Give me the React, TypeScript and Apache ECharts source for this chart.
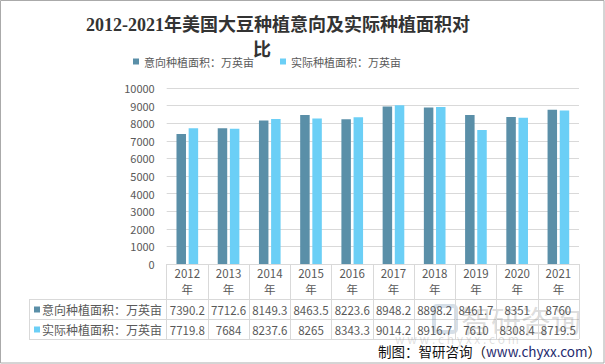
import React, { useEffect, useRef } from "react";
import * as echarts from "echarts";

const years = ["2012", "2013", "2014", "2015", "2016", "2017", "2018", "2019", "2020", "2021"];
const intentArea = [7390.2, 7712.6, 8149.3, 8463.5, 8223.6, 8948.2, 8898.2, 8461.7, 8351, 8760];
const actualArea = [7719.8, 7684, 8237.6, 8265, 8343.3, 9014.2, 8916.7, 7610, 8308.4, 8719.5];
const seriesNames = ["意向种植面积：万英亩", "实际种植面积：万英亩"];
const titleLines = ["2012-2021年美国大豆种植意向及实际种植面积对", "比"];
const sourceLabel = "制图：智研咨询（";
const sourceUrl = "www.chyxx.com";
const colors = ["#5A8FA8", "#6BCFF6"];

const FONT = '"Noto Sans CJK SC", "Noto Sans", sans-serif';
const GRID_LEFT = 166.7;
const GRID_RIGHT_X = 579;
const TABLE_LEFT = 29;

export default function App() {
  const ref = useRef<HTMLDivElement>(null);
  useEffect(() => {
    if (!ref.current) return;
    const chart = echarts.init(ref.current, undefined, { renderer: "svg" });
    const gray = "#595959";
    const lineColor = "#d9d9d9";
    const valueAxis = (vals: number[], margin: number) => ({
      type: "category",
      data: vals.map((v) => String(v)),
      position: "bottom",
      offset: 0,
      axisLine: { show: false },
      axisTick: { show: false },
      splitLine: { show: false },
      axisLabel: { interval: 0, margin, fontSize: 11.5, lineHeight: 16, color: gray, fontFamily: FONT },
    });
    const rowY = [309.5, 329.5];
    const titleFont = '"Liberation Serif", "Noto Sans CJK SC", serif';
    const graphics: any[] = [
      { type: "rect", shape: { x: 0.5, y: 0.5, width: 603.5, height: 362.5 }, style: { fill: "none", stroke: "#aaaaaa", lineWidth: 1 }, silent: true },
      { type: "text", x: 278, y: 25, style: { text: titleLines[0], fontSize: 18, fontWeight: "bold", fontFamily: titleFont, fill: "#333333", textAlign: "center", textVerticalAlign: "middle" } },
      { type: "text", x: 262, y: 50, style: { text: titleLines[1], fontSize: 18, fontWeight: "bold", fontFamily: titleFont, fill: "#333333", textAlign: "center", textVerticalAlign: "middle" } },
      { type: "line", shape: { x1: TABLE_LEFT, y1: 299.5, x2: GRID_RIGHT_X, y2: 299.5 }, style: { stroke: lineColor, lineWidth: 1 } },
      { type: "line", shape: { x1: TABLE_LEFT, y1: 319.5, x2: GRID_RIGHT_X, y2: 319.5 }, style: { stroke: lineColor, lineWidth: 1 } },
      { type: "line", shape: { x1: TABLE_LEFT, y1: 339.5, x2: GRID_RIGHT_X, y2: 339.5 }, style: { stroke: lineColor, lineWidth: 1 } },
      { type: "line", shape: { x1: TABLE_LEFT + 0.5, y1: 299.5, x2: TABLE_LEFT + 0.5, y2: 339.5 }, style: { stroke: lineColor, lineWidth: 1 } },
    ];
    seriesNames.forEach((name, i) => {
      graphics.push({ type: "rect", shape: { x: 34, y: rowY[i] - 3, width: 6, height: 6 }, style: { fill: colors[i] } });
      graphics.push({ type: "text", x: 42, y: rowY[i], style: { text: name, fontSize: 12, fontFamily: FONT, fill: gray, textVerticalAlign: "middle" } });
    });
    // watermark
    graphics.push({ type: "rect", shape: { x: 434, y: 306, width: 22, height: 26, r: 3 }, style: { fill: "none", stroke: "rgba(120,150,180,0.3)", lineWidth: 4 }, silent: true });
    graphics.push({ type: "text", x: 461, y: 319, style: { text: "智研咨询", fontSize: 30, fontFamily: FONT, fill: "rgba(140,140,140,0.3)", textVerticalAlign: "middle" }, silent: true });
    graphics.push({ type: "text", x: 395, y: 338, style: { text: "w w w . c h y x x . c o m", fontSize: 12, fontFamily: FONT, fill: "rgba(150,150,150,0.3)", textVerticalAlign: "middle" }, silent: true });
    graphics.push({
      type: "text", x: 601, y: 351,
      style: {
        text: `{a|${sourceLabel}}{b|${sourceUrl}}{a|）}`,
        textAlign: "right", textVerticalAlign: "middle",
        rich: {
          a: { fontSize: 13.5, fontFamily: FONT, fill: "#111111" },
          b: { fontSize: 13.5, fontFamily: FONT, fill: "#1f2a6e" },
        },
      },
    });

    chart.setOption({
      animation: false,
      backgroundColor: "#ffffff",
      textStyle: { fontFamily: FONT },
      grid: { left: GRID_LEFT, right: 605 - GRID_RIGHT_X, top: 88, bottom: 100, containLabel: false },
      legend: {
        data: seriesNames,
        left: 133,
        top: 56,
        icon: "rect",
        itemWidth: 6,
        itemHeight: 6,
        itemGap: 26,
        padding: 0,
        textStyle: { fontSize: 11, color: gray, fontFamily: FONT },
      },
      xAxis: [
        {
          type: "category",
          data: years,
          position: "bottom",
          offset: 0,
          axisLine: { show: true, lineStyle: { color: lineColor } },
          axisTick: { show: true, length: 75, lineStyle: { color: lineColor } },
          axisLabel: { interval: 0, formatter: (v: string) => `${v}\n年`, fontSize: 11.5, lineHeight: 16, color: gray, margin: 1, fontFamily: FONT },
          splitLine: { show: false },
        },
        valueAxis(intentArea, 38),
        valueAxis(actualArea, 58),
      ],
      yAxis: {
        type: "value",
        min: 0,
        max: 10000,
        interval: 1000,
        axisLine: { show: false },
        axisTick: { show: false },
        axisLabel: { fontSize: 11, color: gray, margin: 12, fontFamily: FONT, formatter: (v: number) => String(v) },
        splitLine: { lineStyle: { color: lineColor } },
      },
      series: [
        { name: seriesNames[0], type: "bar", xAxisIndex: 0, data: intentArea, barWidth: 9.5, barGap: "28%", itemStyle: { color: colors[0] } },
        { name: seriesNames[1], type: "bar", xAxisIndex: 0, data: actualArea, barWidth: 9.5, barGap: "28%", itemStyle: { color: colors[1] } },
      ],
      graphic: graphics,
    });
    return () => chart.dispose();
  }, []);
  return <div ref={ref} style={{ position: "absolute", left: 0, top: 0, width: 605, height: 364 }} />;
}
